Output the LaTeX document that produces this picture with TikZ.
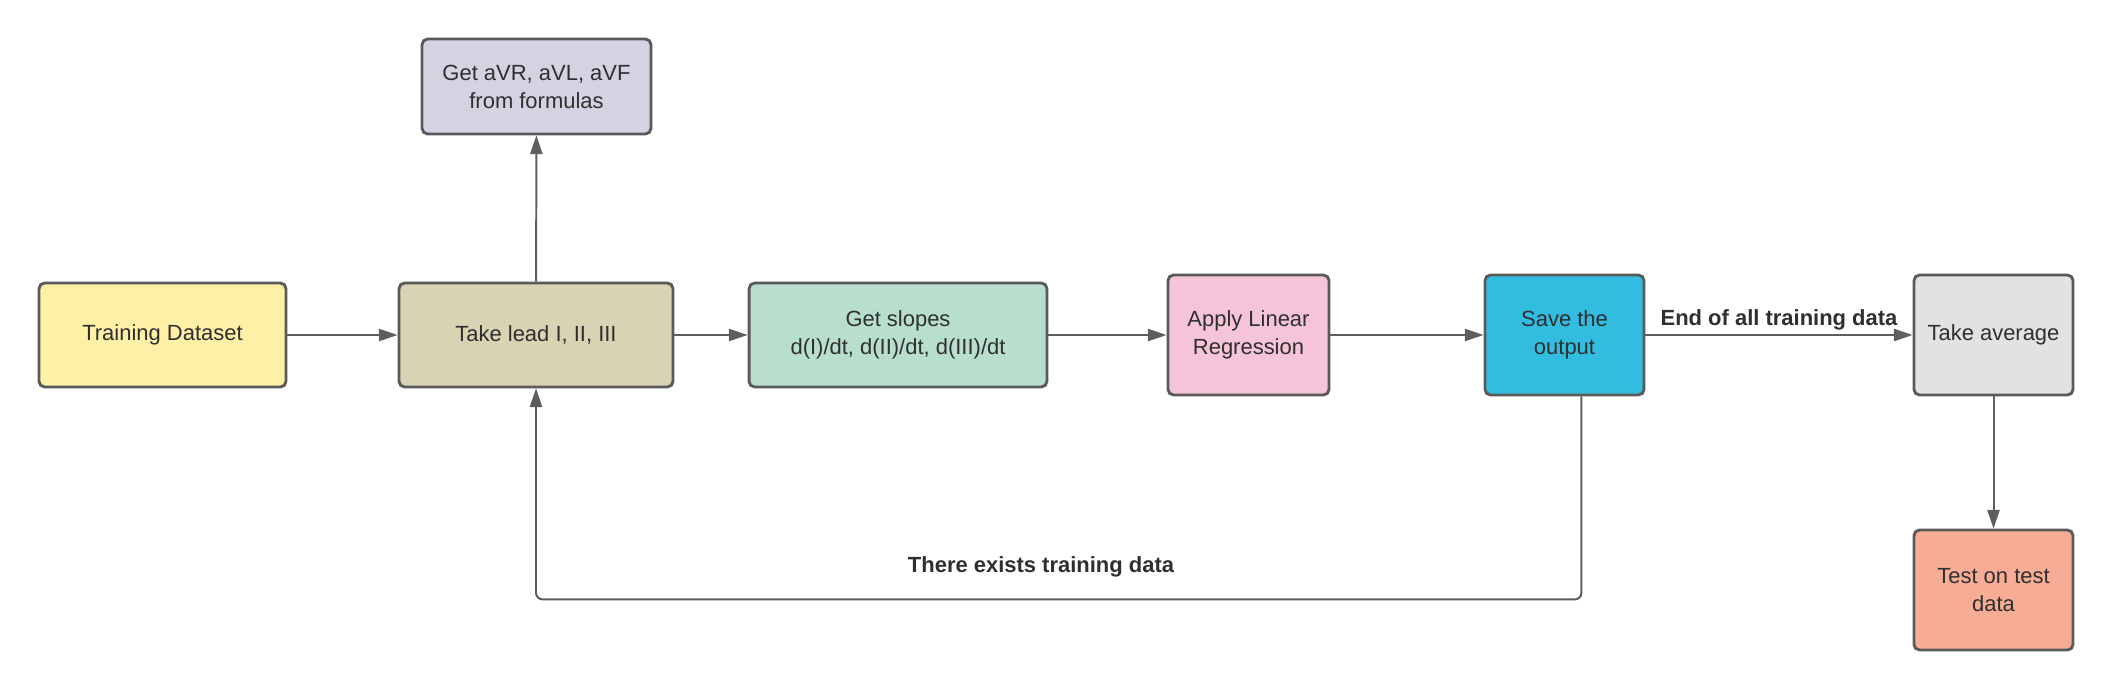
\documentclass[tikz,border=0pt]{standalone}
\usepackage{fontspec}
\setmainfont{Liberation Sans}
\usetikzlibrary{arrows.meta}
\definecolor{linegray}{HTML}{5E5E5E}
\definecolor{boxline}{HTML}{5A5A5A}
\definecolor{textdark}{HTML}{2F2F2F}
\definecolor{trainfill}{HTML}{FFF0A8}
\definecolor{leadfill}{HTML}{D9D2B3}
\definecolor{augfill}{HTML}{D4D3E2}
\definecolor{slopefill}{HTML}{B8DFCE}
\definecolor{regfill}{HTML}{F5C4D8}
\definecolor{savefill}{HTML}{31BCE0}
\definecolor{avgfill}{HTML}{E2E2E2}
\definecolor{testfill}{HTML}{F7AD95}
\tikzset{
	box/.style={draw=boxline,line width=1.3pt,rounded corners=2.5pt,align=center,text=textdark,inner sep=0pt,font=\fontsize{10}{12.7}\selectfont},
	flow/.style={draw=linegray,line width=0.9pt,-{Triangle[length=8.5pt,width=5.5pt]}},
	lbl/.style={text=textdark,font=\bfseries\fontsize{10}{12}\selectfont}
}
\begin{document}
\begin{tikzpicture}[x=1.6cm,y=1.6cm]
		\useasboundingbox(0,0)rectangle(21.15,6.9);
		\node[box,fill=trainfill,minimum width=112.4pt,minimum height=47.3pt](train)at(1.625,3.55){Training Dataset};
		\node[box,fill=leadfill,minimum width=124.7pt,minimum height=47.3pt](lead)at(5.36,3.55){Take lead I, II, III};
		\node[box,fill=augfill,minimum width=104.2pt,minimum height=43.2pt](aug)at(5.365,6.035){Get aVR, aVL, aVF\\from formulas};
		\node[box,fill=slopefill,minimum width=135.6pt,minimum height=47.3pt](slope)at(8.98,3.55){Get slopes\\d(I)/dt, d(II)/dt, d(III)/dt};
		\node[box,fill=regfill,minimum width=73.3pt,minimum height=54.6pt](reg)at(12.485,3.55){Apply Linear\\Regression};
		\node[box,fill=savefill,minimum width=72.4pt,minimum height=54.6pt](save)at(15.645,3.55){Save the\\output};
		\node[box,fill=avgfill,minimum width=72.4pt,minimum height=54.6pt](avg)at(19.935,3.55){Take average};
		\node[box,fill=testfill,minimum width=72.4pt,minimum height=54.6pt](test)at(19.935,1.0){Test on test\\data};
		\foreach \a/\b in {train/lead,lead/slope,slope/reg,reg/save} {
			\draw[flow](\a)--(\b);
		}
		\draw[flow](lead)--(aug);
		\draw[flow](save)--node[lbl,above=-1.5pt](endall){End of all training data}(avg);
		\draw[flow](avg)--(test);
		\draw[flow,rounded corners=3pt]([xshift=7.7pt]save.south)--++(0,-2.03)coordinate(back)-|(lead.south);
		\node[lbl](exists)at(10.41,1.23){There exists training data};
	\end{tikzpicture}
\end{document}
